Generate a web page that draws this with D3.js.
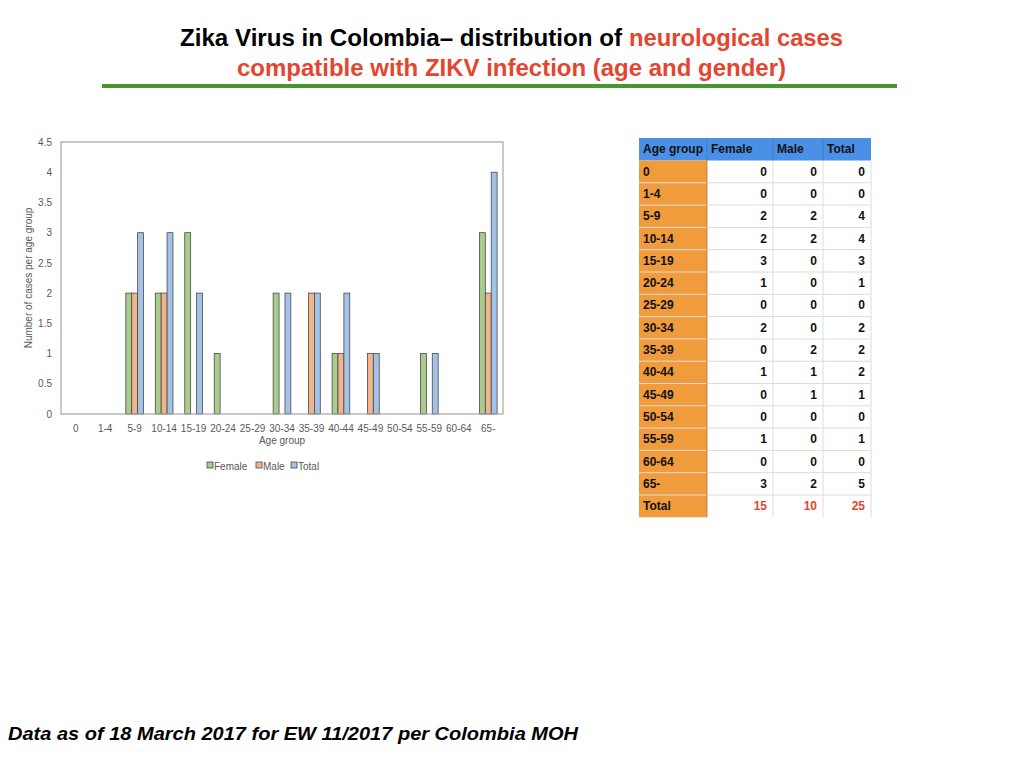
<!DOCTYPE html>
<html>
<head>
<meta charset="utf-8">
<script src="https://cdn.jsdelivr.net/npm/d3@7"></script>
<style>
  body { margin: 0; background: #fff; }
  svg { display: block; font-family: "Liberation Sans", Arial, sans-serif; }
</style>
</head>
<body>
<div id="slide"></div>
<script>
// age groups and case counts
var ageGroups = ["0", "1-4", "5-9", "10-14", "15-19", "20-24", "25-29", "30-34", "35-39", "40-44", "45-49", "50-54", "55-59", "60-64", "65-"];
var femaleCases = [0, 0, 2, 2, 3, 1, 0, 2, 0, 1, 0, 0, 1, 0, 3];
var maleCases = [0, 0, 2, 2, 0, 0, 0, 0, 2, 1, 1, 0, 0, 0, 2];
// the bars of the chart show these totals
var chartTotals = [0, 0, 3, 3, 2, 0, 0, 2, 2, 2, 1, 0, 1, 0, 4];
// the table shows these totals
var tableTotals = [0, 0, 4, 4, 3, 1, 0, 2, 2, 2, 1, 0, 1, 0, 5];
var seriesNames = ["Female", "Male", "Total"];
var seriesColors = ["#a9cb8c", "#f2b489", "#a4c2e6"];
var yTicks = [0, 0.5, 1, 1.5, 2, 2.5, 3, 3.5, 4, 4.5];

var red = "#e5452f";
var axisGrey = "#595959";

var svg = d3.select("#slide")
    .append("svg")
    .attr("width", 1024)
    .attr("height", 768);

// title
svg.append("text")
    .attr("x", 180).attr("y", 46)
    .attr("textLength", 442).attr("lengthAdjust", "spacingAndGlyphs")
    .style("font-size", "24px").style("font-weight", "bold")
    .text("Zika Virus in Colombia\u2013  distribution of");
svg.append("text")
    .attr("x", 629).attr("y", 46)
    .attr("textLength", 214).attr("lengthAdjust", "spacingAndGlyphs")
    .style("font-size", "24px").style("font-weight", "bold")
    .style("fill", red)
    .text("neurological cases");
svg.append("text")
    .attr("x", 237).attr("y", 76)
    .attr("textLength", 549).attr("lengthAdjust", "spacingAndGlyphs")
    .style("font-size", "24px").style("font-weight", "bold")
    .style("fill", red)
    .text("compatible with ZIKV infection (age and gender)");
svg.append("rect")
    .attr("x", 102).attr("y", 84)
    .attr("width", 795).attr("height", 4)
    .style("fill", "#47972f");

// chart
var plot = { left: 61, right: 503, top: 142, bottom: 414 };

var x = d3.scaleBand()
    .domain(ageGroups)
    .range([plot.left, plot.right])
    .paddingInner(0.4)
    .paddingOuter(0.2);

var xSub = d3.scaleBand()
    .domain(seriesNames)
    .range([0, x.bandwidth()]);

var y = d3.scaleLinear()
    .domain([0, 4.5])
    .range([plot.bottom, plot.top]);

var bars = [];
ageGroups.forEach(function(g, i) {
    [femaleCases[i], maleCases[i], chartTotals[i]].forEach(function(v, j) {
        if (v > 0) bars.push({ group: g, series: seriesNames[j], value: v, color: seriesColors[j] });
    });
});

svg.append("g")
    .attr("class", "y-axis")
    .attr("transform", "translate(" + (plot.left - 6) + ",0)")
    .call(d3.axisLeft(y).tickValues(yTicks).tickSize(0).tickFormat(d3.format("")))
    .call(g => g.select(".domain").remove());

svg.append("g")
    .attr("class", "x-axis")
    .attr("transform", "translate(0," + (plot.bottom + 8) + ")")
    .call(d3.axisBottom(x).tickSize(0))
    .call(g => g.select(".domain").remove());

svg.selectAll(".y-axis text, .x-axis text")
    .style("font-size", "10px")
    .style("font-family", "Liberation Sans, Arial, sans-serif")
    .style("fill", axisGrey);

svg.selectAll(".bar")
    .data(bars)
    .enter()
    .append("rect")
    .attr("class", "bar")
    .attr("x", d => x(d.group) + xSub(d.series))
    .attr("y", d => y(d.value))
    .attr("width", xSub.bandwidth())
    .attr("height", d => y(0) - y(d.value))
    .style("fill", d => d.color)
    .style("stroke", "#4a4a4a")
    .style("stroke-width", 0.8);

svg.append("rect")
    .attr("x", plot.left).attr("y", plot.top)
    .attr("width", plot.right - plot.left)
    .attr("height", plot.bottom - plot.top)
    .style("fill", "none")
    .style("stroke", "#a6a6a6")
    .style("stroke-width", 1.2);

svg.append("text")
    .attr("transform", "translate(34," + ((plot.top + plot.bottom) / 2) + ") rotate(-90)")
    .style("text-anchor", "middle")
    .style("font-size", "10px")
    .style("fill", axisGrey)
    .text("Number of cases per age group")
    .attr("dy", "-0.2em");

svg.append("text")
    .attr("x", (plot.left + plot.right) / 2)
    .attr("y", 444)
    .style("text-anchor", "middle")
    .style("font-size", "10px")
    .style("fill", axisGrey)
    .text("Age group");

// legend
var legendX = [207, 256, 291];
var legend = svg.selectAll(".legend")
    .data(seriesNames)
    .enter()
    .append("g")
    .attr("class", "legend")
    .attr("transform", (d, i) => "translate(" + legendX[i] + ",462)");
legend.append("rect")
    .attr("width", 6).attr("height", 6)
    .style("fill", (d, i) => seriesColors[i])
    .style("stroke", "#4a4a4a")
    .style("stroke-width", 0.8);
legend.append("text")
    .attr("x", 7).attr("y", 7.5)
    .style("font-size", "10px")
    .style("fill", axisGrey)
    .text(d => d);

// table
var colX = [639, 707, 773, 823, 871];
var headTop = 138, headH = 22.5, rowH = 22.3;
var tableRows = ageGroups.map(function(g, i) {
    return { label: g, values: [femaleCases[i], maleCases[i], tableTotals[i]], total: false };
});
tableRows.push({ label: "Total", values: [d3.sum(femaleCases), d3.sum(maleCases), d3.sum(tableTotals)], total: true });

var table = svg.append("g").attr("class", "table");

table.append("rect")
    .attr("x", colX[0]).attr("y", headTop)
    .attr("width", colX[4] - colX[0]).attr("height", headH)
    .style("fill", "#4a90e6");
table.append("rect")
    .attr("x", colX[0]).attr("y", headTop + headH)
    .attr("width", colX[1] - colX[0]).attr("height", rowH * tableRows.length)
    .style("fill", "#f09c3c");

// grid lines
tableRows.forEach(function(r, i) {
    table.append("line")
        .attr("x1", colX[0]).attr("x2", colX[4])
        .attr("y1", headTop + headH + rowH * (i + 1))
        .attr("y2", headTop + headH + rowH * (i + 1))
        .style("stroke", i == tableRows.length - 1 ? "none" : "#dcdcdc")
        .style("stroke-width", 1);
});
[2, 3, 4].forEach(function(c) {
    table.append("line")
        .attr("x1", colX[c]).attr("x2", colX[c])
        .attr("y1", headTop + headH).attr("y2", headTop + headH + rowH * tableRows.length)
        .style("stroke", "#dcdcdc");
});
[1, 2, 3].forEach(function(c) {
    table.append("line")
        .attr("x1", colX[c]).attr("x2", colX[c])
        .attr("y1", headTop).attr("y2", headTop + headH)
        .style("stroke", "#3a78c4").style("stroke-width", 0.8);
});
table.append("line")
    .attr("x1", colX[1]).attr("x2", colX[1])
    .attr("y1", headTop + headH).attr("y2", headTop + headH + rowH * tableRows.length)
    .style("stroke", "#c07a2a").style("stroke-width", 0.8);

["Age group"].concat(seriesNames).forEach(function(h, c) {
    table.append("text")
        .attr("x", colX[c] + 4)
        .attr("y", headTop + headH / 2 + 4)
        .style("font-size", "12px").style("font-weight", "bold")
        .style("fill", "#111")
        .text(h);
});

var rowG = table.selectAll(".row")
    .data(tableRows)
    .enter()
    .append("g")
    .attr("class", "row")
    .attr("transform", (d, i) => "translate(0," + (headTop + headH + rowH * i + rowH / 2 + 4) + ")");
rowG.append("text")
    .attr("x", colX[0] + 4)
    .style("font-size", "12px").style("font-weight", "bold")
    .style("fill", "#111")
    .text(d => d.label);
[0, 1, 2].forEach(function(k) {
    rowG.append("text")
        .attr("x", colX[k + 2] - 6)
        .style("text-anchor", "end")
        .style("font-size", "12px").style("font-weight", "bold")
        .style("fill", d => d.total ? red : "#111")
        .text(d => d.values[k]);
});

// footer
svg.append("text")
    .attr("x", 8).attr("y", 740)
    .attr("textLength", 570).attr("lengthAdjust", "spacingAndGlyphs")
    .style("font-size", "19px").style("font-weight", "bold").style("font-style", "italic")
    .text("Data as of 18 March 2017 for EW 11/2017 per Colombia MOH");
</script>
</body>
</html>
